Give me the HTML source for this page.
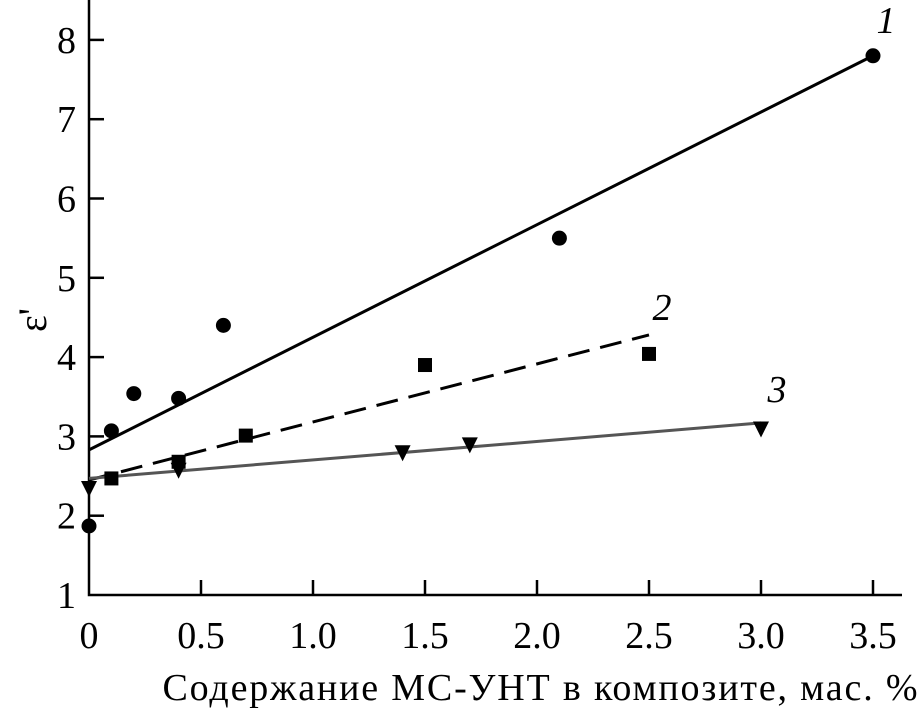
<!DOCTYPE html>
<html><head><meta charset="utf-8"><style>
body{margin:0;background:#fff}
svg text{font-family:"Liberation Serif","Times New Roman",serif;fill:#000}
</style></head><body>
<svg id="chart" width="923" height="710" xmlns="http://www.w3.org/2000/svg">
<g id="axes"></g>
<g id="marks"></g>
</svg>
<script>
const xTicks=[0,0.5,1.0,1.5,2.0,2.5,3.0,3.5];
const xTickLabels=["0","0.5","1.0","1.5","2.0","2.5","3.0","3.5"];
const yTicks=[1,2,3,4,5,6,7,8];
const s1x=[0,0.1,0.2,0.4,0.6,2.1,3.5];
const s1y=[1.87,3.07,3.54,3.48,4.4,5.5,7.8];
const s2x=[0.1,0.4,0.7,1.5,2.5];
const s2y=[2.47,2.68,3.01,3.9,4.04];
const s3x=[0,0.4,1.4,1.7,3.0];
const s3y=[2.35,2.58,2.8,2.9,3.1];
const fit1=[[0,2.83],[3.5,7.8]];
const fit2=[[0,2.45],[2.5,4.28]];
const fit3=[[0,2.47],[3.0,3.17]];

const NS="http://www.w3.org/2000/svg";
const X=v=>89+v*224;
const Y=v=>595-(v-1)*79.3;
function mk(parent,tag,attrs){const e=document.createElementNS(NS,tag);for(const k in attrs)e.setAttribute(k,attrs[k]);parent.appendChild(e);return e;}
const axes=document.getElementById('axes'),marks=document.getElementById('marks');

let e=mk(axes,'path',{d:`M89 0 V595 H902`,stroke:'#000','stroke-width':2.5,fill:'none'});


xTicks.forEach((t,i)=>{
  if(i>0){let l=mk(axes,'line',{x1:X(t),x2:X(t),y1:595,y2:580,stroke:'#000','stroke-width':2.5});
  
  }
  let tx=mk(axes,'text',{x:X(t),y:648,'font-size':38,'text-anchor':'middle'});tx.textContent=xTickLabels[i];
  
  
});
yTicks.forEach(t=>{
  if(t>1){let l=mk(axes,'line',{x1:89,x2:104,y1:Y(t),y2:Y(t),stroke:'#000','stroke-width':2.5});
  
  }
  let tx=mk(axes,'text',{x:76,y:Y(t)+13,'font-size':38,'text-anchor':'end'});tx.textContent=String(t);
  
  
});
let xt=mk(axes,'text',{x:540,y:700,'font-size':38,'text-anchor':'middle',textLength:755});xt.textContent='Содержание МС-УНТ в композите, мас. %';


let yt=mk(axes,'text',{x:0,y:0,'font-size':40,'text-anchor':'middle',transform:'translate(46,320) rotate(-90)'});yt.textContent="ε'";



function fit(f,stroke,dash,name){
  let l=mk(marks,'line',{x1:X(f[0][0]),y1:Y(f[0][1]),x2:X(f[1][0]),y2:Y(f[1][1]),stroke:stroke,'stroke-width':3,'stroke-dasharray':dash||'none'});
  
  
}
fit(fit1,'#000',null,'fit-line-1');
fit(fit2,'#000','22 11','fit-line-2');
fit(fit3,'#555',null,'fit-line-3');
s1x.forEach((v,i)=>{let c=mk(marks,'circle',{cx:X(v),cy:Y(s1y[i]),r:7.5,fill:'#000'});
  
  });
s2x.forEach((v,i)=>{let r=mk(marks,'rect',{x:X(v)-7,y:Y(s2y[i])-7,width:14,height:14,fill:'#000'});
  
  });
s3x.forEach((v,i)=>{const x=X(v),y=Y(s3y[i]);let p=mk(marks,'polygon',{points:`${x-8},${y-7} ${x+8},${y-7} ${x},${y+9}`,fill:'#000'});
  
  });
[['1',886,33],['2',662,320],['3',777,402]].forEach(([t,x,y])=>{let tx=mk(marks,'text',{x:x,y:y,'font-size':38,'font-style':'italic','text-anchor':'middle'});tx.textContent=t;
  
  });
</script>
</body></html>
